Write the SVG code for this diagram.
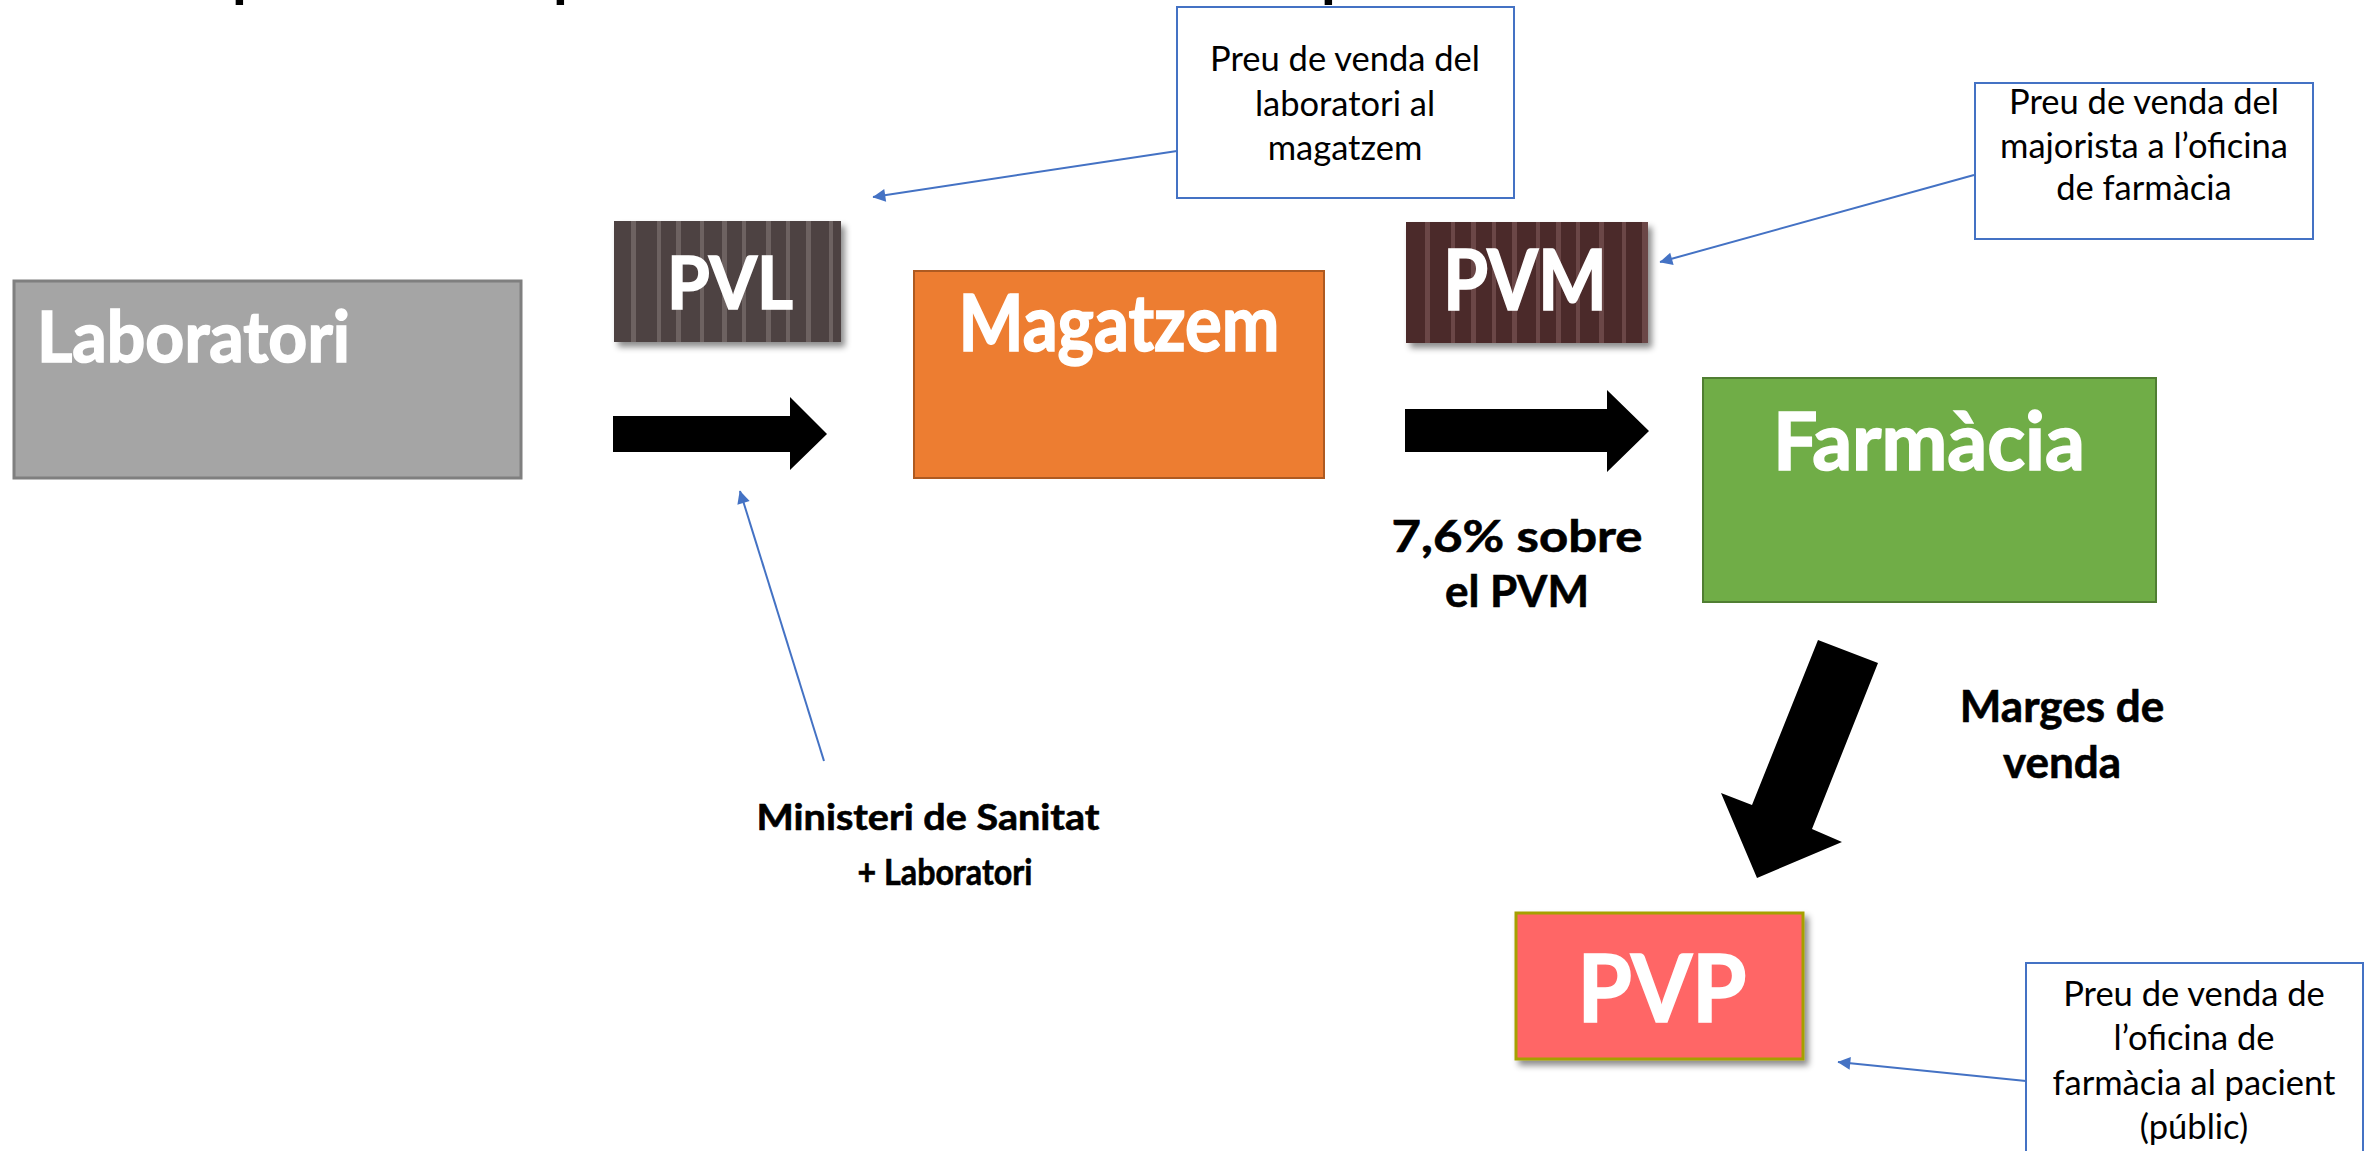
<svg xmlns="http://www.w3.org/2000/svg" width="2372" height="1151" viewBox="0 0 2372 1151">
<defs>
<style>
.node-text{font-family:Lato,"Open Sans","Liberation Sans",sans-serif;font-weight:700;fill:#ffffff;stroke:#ffffff;stroke-width:1.6;}
.label{font-family:Lato,"Open Sans","Liberation Sans",sans-serif;font-weight:700;fill:#000000;stroke:#000000;stroke-width:0.6;text-anchor:middle;}
.note{font-family:Lato,"Open Sans","Liberation Sans",sans-serif;font-weight:400;fill:#000000;font-size:34.5px;text-anchor:middle;}
.notebox{fill:#ffffff;stroke:#4472c4;stroke-width:2;}
.conn{stroke:#4472c4;stroke-width:2;fill:none;marker-end:url(#ah);}
.block{fill:#000000;}
.stripeL{fill:#6d6261;}
.stripeM{fill:#6b4747;}
</style>
<marker id="ah" viewBox="0 0 10 10" refX="9" refY="5" markerWidth="8" markerHeight="8" markerUnits="userSpaceOnUse" orient="auto" overflow="visible">
<path d="M0,0 L10,5 L0,10 z" fill="#4472c4" transform="scale(1.6) translate(-4,-2)"/>
</marker>
<filter id="sh" x="-10%" y="-10%" width="130%" height="140%">
<feDropShadow dx="4" dy="5" stdDeviation="3" flood-color="#000000" flood-opacity="0.45"/>
</filter>
</defs>
<rect width="2372" height="1151" fill="#ffffff"/>

<g id="title-fragment" class="label" style="font-size:60px;text-anchor:start;stroke:none">
<text x="232" y="-5">p</text>
<text x="553" y="-5">p</text>
<text x="1321" y="-5">p</text>
</g>

<g id="connectors">
<path class="block" d="M613,416 L790,416 L790,397 L827,434 L790,470 L790,452 L613,452 Z"/>
<path class="block" d="M1405,409 L1607,409 L1607,390 L1649,431 L1607,472 L1607,452 L1405,452 Z"/>
<path class="block" d="M1818,640 L1878,663 L1812,829 L1842,842 L1757,878 L1721,793 L1752,805 Z"/>
<line class="conn" x1="1177" y1="151" x2="873" y2="197"/>
<line class="conn" x1="1974" y1="175" x2="1660" y2="262"/>
<line class="conn" x1="824" y1="761" x2="740" y2="491"/>
<line class="conn" x1="2026" y1="1081" x2="1838" y2="1062"/>
</g>

<g id="laboratori">
<rect x="14" y="281" width="507" height="197" fill="#a5a5a5" stroke="#7f7f7f" stroke-width="3"/>
<text class="node-text" x="37" y="362" font-size="70" textLength="313" lengthAdjust="spacingAndGlyphs">Laboratori</text>
</g>

<g id="pvl">
<rect x="614" y="221" width="227" height="121" fill="#4d4342" filter="url(#sh)"/>
<rect class="stripeL" x="631" y="221" width="5" height="121"/>
<rect class="stripeL" x="657" y="221" width="4" height="121"/>
<rect class="stripeL" x="676" y="221" width="5" height="121"/>
<rect class="stripeL" x="700" y="221" width="4" height="121"/>
<rect class="stripeL" x="722" y="221" width="5" height="121"/>
<rect class="stripeL" x="742" y="221" width="4" height="121"/>
<rect class="stripeL" x="766" y="221" width="5" height="121"/>
<rect class="stripeL" x="786" y="221" width="4" height="121"/>
<rect class="stripeL" x="806" y="221" width="5" height="121"/>
<rect class="stripeL" x="829" y="221" width="4" height="121"/>
<text class="node-text" x="730" y="309" font-size="73" text-anchor="middle" textLength="126" lengthAdjust="spacingAndGlyphs">PVL</text>
</g>

<g id="pvm">
<rect x="1406" y="222" width="242" height="121" fill="#4b2a2a" filter="url(#sh)"/>
<rect class="stripeM" x="1425" y="222" width="5" height="121"/>
<rect class="stripeM" x="1451" y="222" width="4" height="121"/>
<rect class="stripeM" x="1471" y="222" width="5" height="121"/>
<rect class="stripeM" x="1492" y="222" width="4" height="121"/>
<rect class="stripeM" x="1512" y="222" width="5" height="121"/>
<rect class="stripeM" x="1536" y="222" width="4" height="121"/>
<rect class="stripeM" x="1556" y="222" width="5" height="121"/>
<rect class="stripeM" x="1576" y="222" width="4" height="121"/>
<rect class="stripeM" x="1599" y="222" width="5" height="121"/>
<rect class="stripeM" x="1622" y="222" width="4" height="121"/>
<rect class="stripeM" x="1642" y="222" width="6" height="121"/>
<text class="node-text" x="1525" y="310" font-size="84" text-anchor="middle" textLength="164" lengthAdjust="spacingAndGlyphs">PVM</text>
</g>

<g id="magatzem">
<rect x="914" y="271" width="410" height="207" fill="#ed7d31" stroke="#ae5a21" stroke-width="2"/>
<text class="node-text" x="1119" y="351" font-size="78" text-anchor="middle" textLength="321" lengthAdjust="spacingAndGlyphs">Magatzem</text>
</g>

<g id="farmacia">
<rect x="1703" y="378" width="453" height="224" fill="#70ad47" stroke="#507e32" stroke-width="2"/>
<text class="node-text" x="1929" y="470" font-size="80" text-anchor="middle" textLength="312" lengthAdjust="spacingAndGlyphs">Farmàcia</text>
</g>

<g id="pvp">
<rect x="1516" y="913" width="287" height="146" fill="#ff6666" stroke="#a5a000" stroke-width="3" filter="url(#sh)"/>
<text class="node-text" x="1662" y="1022" font-size="93" text-anchor="middle" textLength="169" lengthAdjust="spacingAndGlyphs">PVP</text>
</g>

<g id="note-pvl">
<rect class="notebox" x="1177" y="7" width="337" height="191"/>
<text class="note" x="1345" y="71">Preu de venda del</text>
<text class="note" x="1345" y="116">laboratori al</text>
<text class="note" x="1345" y="160">magatzem</text>
</g>

<g id="note-pvm">
<rect class="notebox" x="1975" y="83" width="338" height="156"/>
<text class="note" x="2144" y="114">Preu de venda del</text>
<text class="note" x="2144" y="158">majorista a l’oficina</text>
<text class="note" x="2144" y="200">de farmàcia</text>
</g>

<g id="note-pvp">
<rect class="notebox" x="2026" y="963" width="337" height="200"/>
<text class="note" x="2194" y="1006">Preu de venda de</text>
<text class="note" x="2194" y="1050">l’oficina de</text>
<text class="note" x="2194" y="1095">farmàcia al pacient</text>
<text class="note" x="2194" y="1139">(públic)</text>
</g>

<g id="label-margin">
<text class="label" x="1517" y="552" font-size="44" textLength="251" lengthAdjust="spacingAndGlyphs">7,6% sobre</text>
<text class="label" x="1517" y="607" font-size="44">el PVM</text>
</g>

<g id="label-marges">
<text class="label" x="2062" y="722" font-size="44">Marges de</text>
<text class="label" x="2062" y="778" font-size="44">venda</text>
</g>

<g id="label-ministeri">
<text class="label" x="928" y="830" font-size="36" textLength="343" lengthAdjust="spacingAndGlyphs">Ministeri de Sanitat</text>
<text class="label" x="945" y="885" font-size="36" textLength="175" lengthAdjust="spacingAndGlyphs">+ Laboratori</text>
</g>
</svg>
